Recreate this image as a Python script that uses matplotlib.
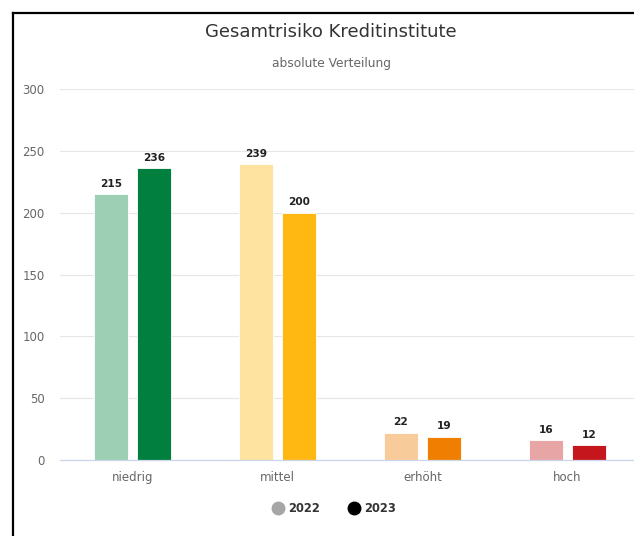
import matplotlib.pyplot as plt
from matplotlib.lines import Line2D
import numpy as np

plt.rcParams['font.family'] = ['DejaVu Sans']

categories = ["niedrig", "mittel", "erhöht", "hoch"]
years = ["2022", "2023"]
values_2022 = [215, 239, 22, 16]
values_2023 = [236, 200, 19, 12]
colors_2022 = ["#9dcfb4", "#fee29f", "#f8cb9b", "#e8a5a6"]
colors_2023 = ["#007f3e", "#ffb812", "#f07e00", "#c4161c"]
yticks = [0, 50, 100, 150, 200, 250, 300]

fig = plt.figure(figsize=(6.34, 5.36), dpi=100)
ax = fig.add_axes([60/634, 76/536, 580/634, 371/536])

x = np.arange(len(categories))
w = 0.235
off = 0.149
b1 = ax.bar(x - off, values_2022, w, color=colors_2022, edgecolor="white", linewidth=0.6, zorder=3)
b2 = ax.bar(x + off, values_2023, w, color=colors_2023, edgecolor="white", linewidth=0.6, zorder=3)

for bars, vals in ((b1, values_2022), (b2, values_2023)):
    for rect, v in zip(bars, vals):
        ax.annotate(str(v), (rect.get_x() + rect.get_width()/2, v),
                    xytext=(0, 4), textcoords="offset points",
                    ha="center", va="bottom", fontsize=7.6,
                    fontweight="bold", color="#222222")

ax.set_xlim(-0.5, 3.5)
ax.set_ylim(0, 300)
ax.set_yticks(yticks)
ax.set_xticks(x)
ax.set_xticklabels(categories)
ax.tick_params(axis="both", length=0, labelsize=8.5, labelcolor="#666666")
ax.tick_params(axis="x", pad=8)
ax.tick_params(axis="y", pad=11)
ax.grid(axis="y", color="#e6e6e6", linewidth=0.8, zorder=0)
for s in ["top", "right", "left"]:
    ax.spines[s].set_visible(False)
ax.spines["bottom"].set_color("#ccd6eb")
ax.spines["bottom"].set_linewidth(0.9)
ax.spines["bottom"].set_zorder(4)

fig.text(331/634, 1 - 32/536, "Gesamtrisiko Kreditinstitute", ha="center", va="center",
         fontsize=13, color="#333333")
fig.text(331/634, 1 - 63/536, "absolute Verteilung", ha="center", va="center",
         fontsize=8.8, color="#666666")

handles = [Line2D([], [], marker="o", linestyle="none", markersize=9, color="#a6a6a6"),
           Line2D([], [], marker="o", linestyle="none", markersize=9, color="#000000")]
leg = fig.legend(handles, years, loc="center", bbox_to_anchor=(334/634, 1 - 509/536),
                 ncol=2, frameon=False, fontsize=8.3, handletextpad=0.4,
                 columnspacing=2.4, handlelength=1.0)
for t in leg.get_texts():
    t.set_color("#333333")
    t.set_fontweight("bold")

# frame lines on the left and top
fig.add_artist(Line2D([12.5/634, 12.5/634], [0, 1 - 12.5/536], transform=fig.transFigure,
                      color="black", linewidth=1.6))
fig.add_artist(Line2D([12.5/634, 1], [1 - 12.5/536, 1 - 12.5/536], transform=fig.transFigure,
                      color="black", linewidth=1.6))

fig.savefig("out.png", dpi=100)
